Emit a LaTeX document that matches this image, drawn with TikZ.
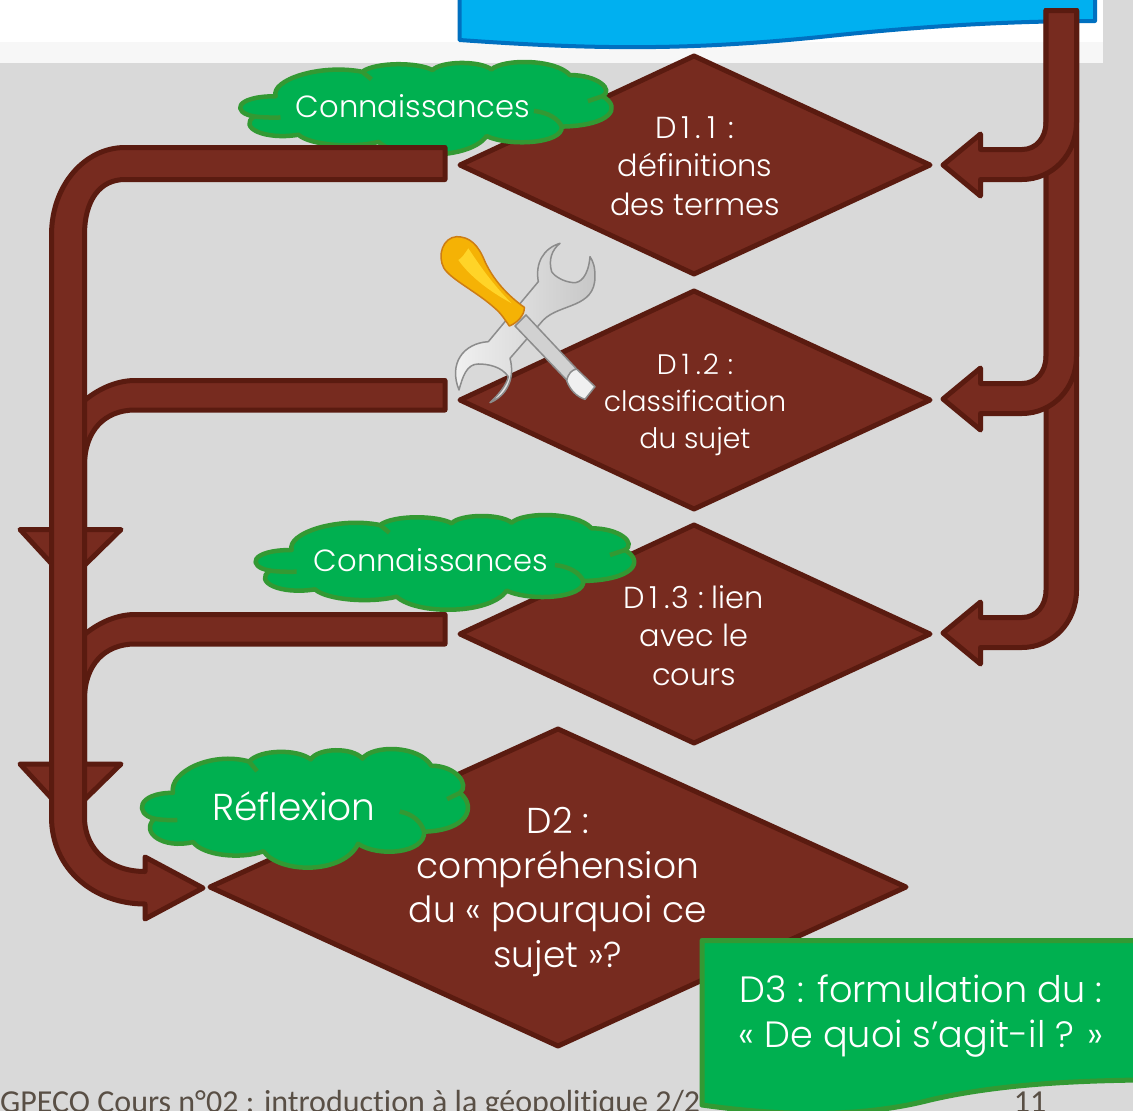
\documentclass[tikz,border=0pt]{standalone}
\usepackage{fontspec}
\setmainfont{Poppins Light}
\newfontfamily\footfont[Ligatures=NoCommon]{Carlito}
\definecolor{brownfill}{HTML}{772B1F}
\definecolor{brownline}{HTML}{5A1B10}
\definecolor{greenfill}{HTML}{00B050}
\definecolor{greenline}{HTML}{339933}
\definecolor{bluefill}{HTML}{00B0F0}
\definecolor{blueline}{HTML}{0070C0}
\definecolor{pagegray}{HTML}{D9D9D9}
\definecolor{footgray}{HTML}{594F45}
\definecolor{handleline}{HTML}{CD7D14}
\definecolor{handlefill}{HTML}{F5B205}
\definecolor{handlelight}{HTML}{FFD428}
\tikzset{
  block/.style={draw=brownline,fill=brownfill,line width=5pt,line join=round},
  lozenge/.style={draw=brownline,fill=brownfill,line width=5pt,line join=round},
  cloudy/.style={draw=greenline,fill=greenfill,line width=4.5pt,line join=round},
  cloudinner/.style={draw=greenline,line width=4.5pt},
  lab/.style={text=white,align=center,inner sep=0pt},
  metal/.style={draw=black!45,line width=1.5pt,line join=round},
}
\newcommand{\wideone}{\makebox[16pt]{1}}
\newcommand{\cloudshape}[5]{%
\begin{scope}[shift={(#2,#3)},x=#4pt,y=-#5pt]
  \path[cloudy] (185,150)
   .. controls (170,100) and (320,50) .. (450,75)
   .. controls (490,45) and (620,45) .. (665,70)
   .. controls (690,42) and (810,40) .. (845,68)
   .. controls (880,35) and (1040,35) .. (1085,85)
   .. controls (1170,85) and (1220,130) .. (1185,150)
   .. controls (1245,185) and (1210,240) .. (1060,243)
   .. controls (1065,295) and (900,305) .. (830,272)
   .. controls (780,345) and (560,345) .. (500,290)
   .. controls (420,310) and (290,300) .. (255,268)
   .. controls (150,285) and (70,245) .. (120,212)
   .. controls (50,200) and (60,150) .. (185,150) -- cycle;
  \path[cloudinner] (450,75) -- (478,98);
  \path[cloudinner] (1140,165) -- (1185,150);
  \path[cloudinner] (975,195) .. controls (1020,200) and (1050,220) .. (1060,243);
  \path[cloudinner] (120,212) .. controls (145,215) and (175,216) .. (200,215);
\end{scope}}
% right-hand block arrow: #1 = centre y of arrow
\newcommand{\rightarrowblock}[1]{%
  \path[block] (1046,10.5) -- (1076.5,10.5) -- (1076.5,#1-43)
   .. controls (1076.5,#1-10) and (1052,#1+14.5) .. (1022,#1+14.5)
   -- (980.5,#1+14.5) -- (980.5,#1+31) -- (943,#1) -- (980.5,#1-31) -- (980.5,#1-15.5) -- (1022,#1-15.5)
   .. controls (1036,#1-15.5) and (1046,#1-27) .. (1046,#1-43) -- cycle;}
% left-hand branch: #1 = upper edge y, #2 = head y
\newcommand{\leftbranch}[2]{%
  \path[block] (445,#1) -- (135,#1)
   .. controls (95,#1) and (51.5,#1+40) .. (51.5,#1+85)
   -- (51.5,#2) -- (20,#2) -- (68,#2+52) -- (121,#2) -- (84.5,#2) -- (84.5,#1+85)
   .. controls (84.5,#1+50) and (105,#1+29.5) .. (135,#1+29.5)
   -- (445,#1+29.5) -- cycle;}
\begin{document}
\begin{tikzpicture}[x=1pt,y=-1pt]
\useasboundingbox (0,0) rectangle (1133,1111);
% background
\fill[pagegray] (0,0) rectangle (1133,1111);
\fill[white] (0,0) rectangle (1103,42);
\fill[black!3] (0,42) rectangle (1103,63);
% footer
\node[anchor=base west,inner sep=0pt,text=footgray,font=\footfont\fontsize{32}{36}\selectfont] (footer) at (0,1112) {GPECO Cours n°02 : introduction à la géopolitique 2/2};
\node[anchor=base,inner sep=0pt,text=footgray,font=\footfont\fontsize{32}{36}\selectfont] (pagenum) at (1030,1112) {11};
% blue box
\path[draw=blueline,fill=bluefill,line width=4pt,line join=round] (459.5,-5) -- (459.5,40)
  .. controls (600,50) and (690,50) .. (820,37)
  .. controls (930,25) and (1020,21) .. (1095,21) -- (1095,-5) -- cycle;
% diamonds
\path[lozenge] (460,165) -- (694,56) -- (930,165) -- (694,274) -- cycle;
\path[lozenge] (460,400) -- (694,291) -- (930,400) -- (694,509) -- cycle;
\path[lozenge] (460,634) -- (694,525) -- (930,634) -- (694,743) -- cycle;
\path[lozenge] (210,887) -- (558,729) -- (906,887) -- (558,1046) -- cycle;
% clouds
\cloudshape{c1}{215.1}{47.3}{.327}{.3263}
\cloudshape{c2}{230}{500}{.3333}{.3333}
\cloudshape{c3}{119.9}{730.2}{.287}{.4175}
% right arrows
\rightarrowblock{633}
\rightarrowblock{399}
\rightarrowblock{165}
% left arrows
\leftbranch{614.5}{764}
\leftbranch{380.5}{529.5}
\path[block] (445,147.5) -- (125,147.5)
  .. controls (85,147.5) and (51.5,185) .. (51.5,235)
  -- (51.5,817) .. controls (51.5,870) and (95,904) .. (145,904)
  -- (145,919) -- (203,888) -- (145,857) -- (145,871.5)
  .. controls (110,871.5) and (84.5,850) .. (84.5,817)
  -- (84.5,235) .. controls (84.5,200) and (100,179.5) .. (125,179.5)
  -- (445,179.5) -- cycle;
% tools
\begin{scope}[shift={(420,220)},x=.3333pt,y=-.3333pt]
  \path[metal,left color=black!5,right color=black!22]
   (420,70) .. controls (370,85) and (345,130) .. (355,185) -- (205,365)
   .. controls (130,370) and (85,430) .. (117,510)
   .. controls (128,470) and (140,432) .. (175,432)
   .. controls (205,432) and (245,440) .. (265,470)
   .. controls (260,495) and (235,525) .. (210,548)
   .. controls (265,525) and (285,470) .. (270,415) -- (370,300)
   .. controls (420,250) and (525,265) .. (525,170)
   .. controls (525,140) and (520,125) .. (510,110)
   .. controls (505,170) and (480,190) .. (460,188)
   .. controls (430,185) and (405,170) .. (395,155)
   .. controls (385,120) and (395,90) .. (420,70) -- cycle;
  \path[metal,fill=black!18] (285,318) -- (318,285) -- (468,445) -- (440,480) -- cycle;
  \path[metal,fill=black!6] (440,482) .. controls (445,460) and (455,450) .. (470,447) -- (525,500) -- (495,538) .. controls (470,530) and (450,510) .. (440,482) -- cycle;
  \path[draw=handleline,fill=handlefill,line width=1.5pt,line join=round]
   (268,318) .. controls (290,310) and (315,285) .. (313,262)
   .. controls (275,235) and (225,190) .. (195,125)
   .. controls (175,75) and (150,50) .. (110,50)
   .. controls (70,52) and (50,105) .. (72,145)
   .. controls (95,180) and (170,215) .. (225,265)
   .. controls (245,282) and (255,300) .. (268,318) -- cycle;
  \fill[handlelight] (145,85) .. controls (175,130) and (215,190) .. (275,250) .. controls (210,215) and (150,170) .. (115,120) .. controls (125,115) and (135,100) .. (145,85) -- cycle;
\end{scope}
% diamond labels
\node[lab,font=\fontsize{30.4}{38.5}\selectfont] (d11) at (695,166) {D\kern1pt\wideone\kern2pt.\kern2pt\wideone\ \kern1pt:\\définitions\\des termes};
\node[lab,font=\fontsize{28.2}{37}\selectfont] (d12) at (695,405) {D\kern1pt\wideone\kern2pt.\kern2pt2\ \kern1pt:\\classification\\du sujet};
\node[lab,font=\fontsize{30.4}{38.5}\selectfont] (d13) at (694,635.5) {D\kern1pt\wideone\kern2pt.\kern2pt3\ :\ lien\\avec le\\cours};
\node[lab,font=\fontsize{36}{44.5}\selectfont] (d2) at (558,892) {D2 :\\compréhension\\du «\ pourquoi ce\\sujet\ »?};
% cloud labels
\node[lab,font=\fontsize{30.6}{36}\selectfont] (k1) at (413,106) {Connaissances};
\node[lab,font=\fontsize{30.6}{36}\selectfont] (k2) at (431,560) {Connaissances};
\node[lab,font=\fontsize{37.5}{42}\selectfont] (refl) at (294,806) {Réflexion};
% D3 box
\path[draw=greenline,fill=greenfill,line width=5pt,line join=round] (1140,940.5) -- (702,940.5) -- (702,1105)
  .. controls (780,1116) and (860,1118) .. (930,1100)
  .. controls (990,1086) and (1060,1081) .. (1140,1080) -- cycle;
\node[lab,font=\fontsize{36.6}{45}\selectfont] (d3) at (921,1016) {D3 : formulation du :\\« De quoi s’agit-il ? »};
\end{tikzpicture}
\end{document}
